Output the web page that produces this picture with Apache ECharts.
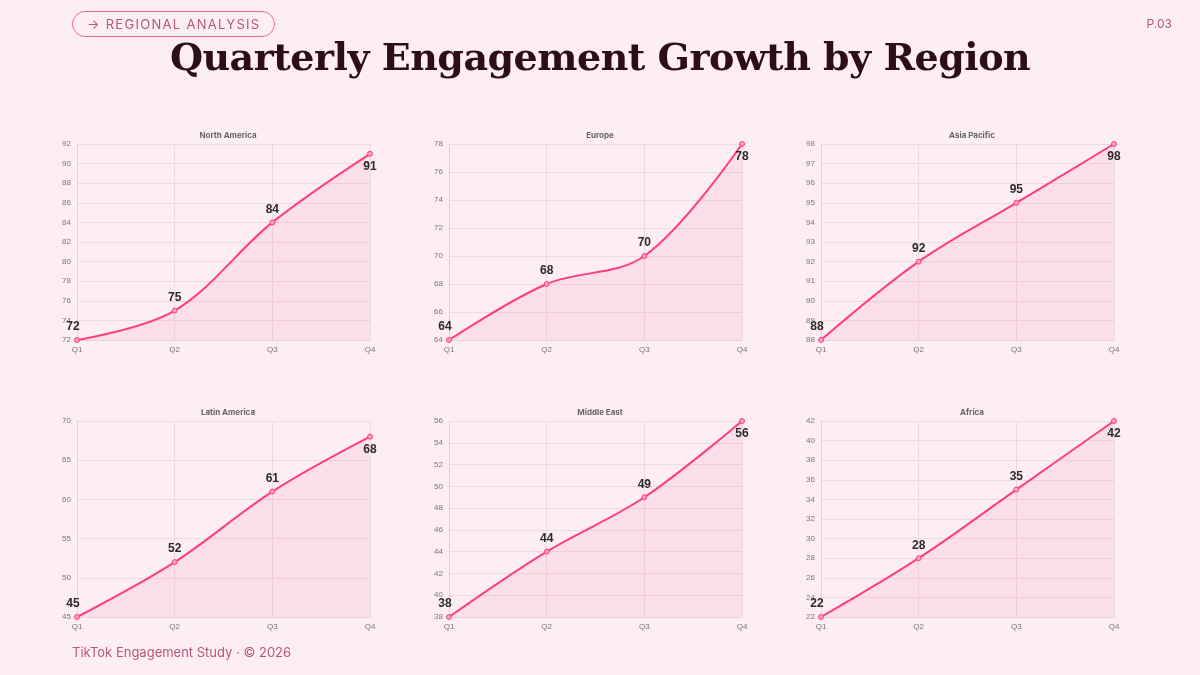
<!DOCTYPE html>
<html>
<head>
<meta charset="utf-8">
<script src="https://cdn.jsdelivr.net/npm/echarts@6/dist/echarts.min.js"></script>
<style>
  body { margin: 0; width: 1200px; height: 675px; background: #fdeef3; font-family: Inter, sans-serif; position: relative; overflow: hidden; }
  .tag { position: absolute; left: 72px; top: 11px; height: 24px; line-height: 24px; padding: 0 14px; border: 1.5px solid #f26b95; border-radius: 13px; color: #b7577a; font-size: 13px; letter-spacing: 1.3px; }
  .page { position: absolute; right: 28px; top: 16px; color: #b7577a; font-size: 12px; }
  h1 { position: absolute; top: 34px; left: 0; width: 1200px; margin: 0; text-align: center; font-family: "DejaVu Serif", "Liberation Serif", serif; font-weight: bold; font-size: 38px; color: #2d0d19; letter-spacing: -0.5px; }
  .foot { position: absolute; left: 72px; top: 644px; color: #b7577a; font-size: 13px; }
  #chart { position: absolute; left: 0; top: 0; width: 1200px; height: 675px; }
</style>
</head>
<body>
<div id="chart"></div>
<div class="tag">→ REGIONAL ANALYSIS</div>
<div class="page">P.03</div>
<h1>Quarterly Engagement Growth by Region</h1>
<div class="foot">TikTok Engagement Study · © 2026</div>
<script>
var quarters = ['Q1', 'Q2', 'Q3', 'Q4'];
var regions = ['North America', 'Europe', 'Asia Pacific', 'Latin America', 'Middle East', 'Africa'];
var northAmerica = [72, 75, 84, 91];
var europe = [64, 68, 70, 78];
var asiaPacific = [88, 92, 95, 98];
var latinAmerica = [45, 52, 61, 68];
var middleEast = [38, 44, 49, 56];
var africa = [22, 28, 35, 42];
var axisMin = [72, 64, 88, 45, 38, 22];
var axisMax = [92, 78, 98, 70, 56, 42];
var axisStep = [2, 2, 1, 5, 2, 2];

var values = [northAmerica, europe, asiaPacific, latinAmerica, middleEast, africa];
var lefts = [77, 449, 821];
var tops = [144, 421];

var grids = [], xAxes = [], yAxes = [], series = [], titles = [];
regions.forEach(function (name, i) {
    var col = i % 3, row = Math.floor(i / 3);
    grids.push({ left: lefts[col], top: tops[row], width: 293, height: 196 });
    titles.push({
        text: name, left: lefts[col] + 146, top: tops[row] - 17, textAlign: 'center',
        textStyle: { fontSize: 8, fontWeight: 'bold', color: '#666', fontFamily: 'Inter' }
    });
    xAxes.push({
        type: 'category', gridIndex: i, data: quarters, boundaryGap: false,
        axisLine: { lineStyle: { color: '#e6d3da' } }, axisTick: { show: false },
        axisLabel: { fontSize: 8, color: '#777', margin: 6 },
        splitLine: { show: true, lineStyle: { color: '#ecdae1' } }
    });
    yAxes.push({
        type: 'value', gridIndex: i, min: axisMin[i], max: axisMax[i], interval: axisStep[i],
        axisLine: { show: true, lineStyle: { color: '#e6d3da' } }, axisTick: { show: false },
        axisLabel: { fontSize: 8, color: '#777', margin: 6 },
        splitLine: { lineStyle: { color: '#ecdae1' } }
    });
    series.push({
        type: 'line', xAxisIndex: i, yAxisIndex: i, smooth: 0.35,
        data: values[i].map(function (v, j) {
            return { value: v, label: { position: j === 3 ? 'bottom' : 'top', offset: j === 0 ? [-4, 0] : [0, 0] } };
        }),
        symbol: 'circle', symbolSize: 5,
        itemStyle: { color: '#f9a3c0', borderColor: '#ff3d7f', borderWidth: 1 },
        lineStyle: { color: '#ff3d7f', width: 2 },
        areaStyle: { color: 'rgba(255, 120, 165, 0.18)' },
        label: { show: true, fontSize: 12, fontWeight: 'bold', color: '#2b2b2b', distance: 4 }
    });
});

var chart = echarts.init(document.getElementById('chart'));
chart.setOption({
    animation: false,
    title: titles,
    grid: grids,
    xAxis: xAxes,
    yAxis: yAxes,
    series: series
});
</script>
</body>
</html>
